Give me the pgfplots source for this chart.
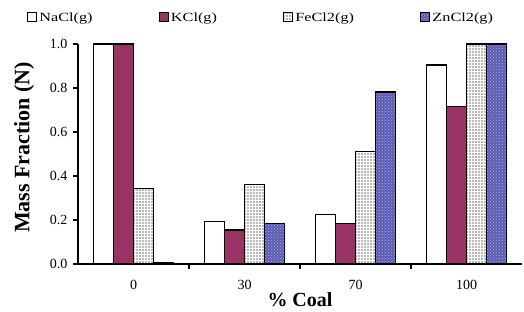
\documentclass[border=0pt]{standalone}
\usepackage{pgfplots}
\pgfplotsset{compat=1.18}
\usepackage{fontspec}
\setmainfont{Liberation Serif}
\newfontfamily\legfont{Liberation Serif}[FakeStretch=1.3]
\usetikzlibrary{patterns}
\definecolor{kcl}{RGB}{153,51,102}
\definecolor{zncl}{RGB}{92,92,180}
\definecolor{fecl}{RGB}{185,185,185}
\begin{document}
\begin{tikzpicture}
\path[use as bounding box] (-78pt,-47pt) rectangle (446pt,264pt);
\begin{axis}[
  at={(0,0)}, anchor=south west,
  scale only axis, width=444pt, height=220pt,
  ybar=0pt, bar width=20pt,
  xmin=-0.5, xmax=3.5, ymin=0, ymax=1,
  axis lines*=left,
  axis line style={line width=1.2pt},
  xtick={0,1,2,3}, xticklabels={0,30,70,100},
  major x tick style={draw=none},
  minor xtick={0.5,1.5,2.5},
  minor x tick style={line width=1.2pt, black},
  minor tick length=5pt,
  ytick={0,0.2,0.4,0.6,0.8,1.0},
  y tick style={line width=1.2pt, black},
  major tick length=5pt,
  tick align=outside,
  yticklabel style={/pgf/number format/fixed, /pgf/number format/fixed zerofill, /pgf/number format/precision=1, /pgf/number format/assume math mode=true, xshift=-2pt},
  ticklabel style={font=\fontsize{14}{16}\selectfont},
  xticklabel style={yshift=-8pt},
  xlabel={\textbf{\% Coal}}, ylabel={\textbf{Mass Fraction (N)}},
  xlabel style={font=\fontsize{20}{22}\selectfont, at={(axis description cs:0.5,0)}, anchor=base, yshift=-42pt},
  ylabel style={font=\fontsize{22}{24}\selectfont, at={(axis description cs:-0.1216,0.53)}, anchor=center},
  legend columns=4,
  legend style={draw=none, at={(0.412,1.12)}, anchor=center, font=\legfont\fontsize{12.5}{14}\selectfont,
    /tikz/every even column/.append style={column sep=64pt}},
  legend image code/.code={\draw[#1, line width=1.4pt] (0pt,-4pt) rectangle (9pt,5pt);},
  every axis plot/.append style={draw=black, line width=1.2pt},
]
\addplot[fill=white] coordinates {(0,1.0) (1,0.195) (2,0.225) (3,0.905)};
\addplot[fill=kcl] coordinates {(0,1.0) (1,0.155) (2,0.185) (3,0.715)};
\addplot[fill=fecl, postaction={pattern=grid, pattern color=white}] coordinates {(0,0.345) (1,0.362) (2,0.513) (3,1.0)};
\addplot[fill=zncl, postaction={pattern=crosshatch dots, pattern color=zncl!50!white}] coordinates {(0,0.005) (1,0.185) (2,0.782) (3,1.0)};
\legend{NaCl(g),KCl(g),FeCl2(g),ZnCl2(g)}
\end{axis}
\end{tikzpicture}
\end{document}
